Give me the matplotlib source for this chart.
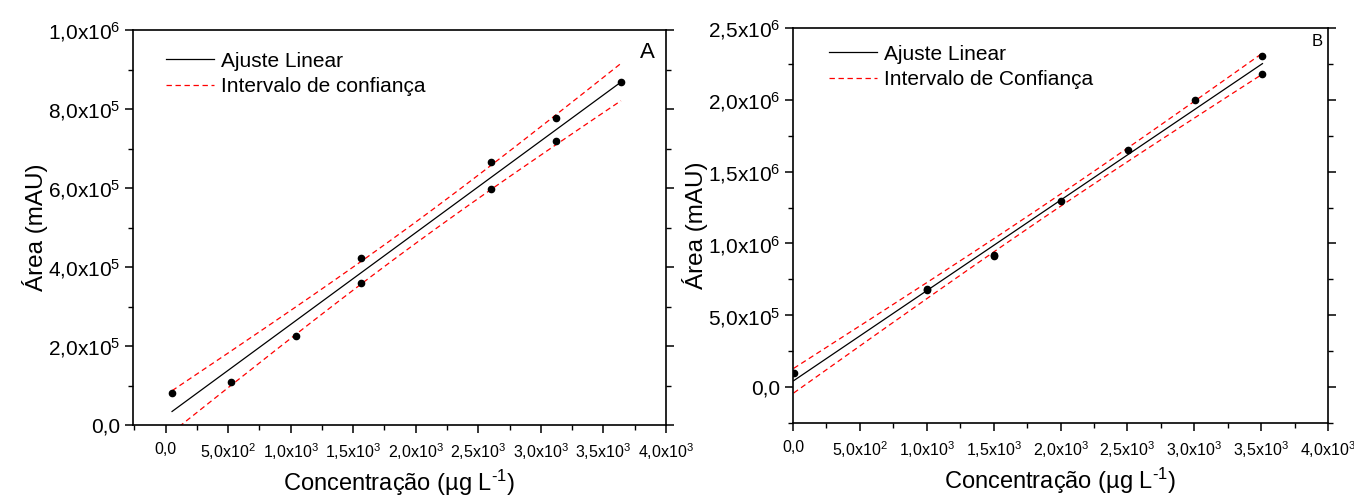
import numpy as np
import matplotlib
matplotlib.use("Agg")
import matplotlib.pyplot as plt
from matplotlib.ticker import FuncFormatter, MultipleLocator

plt.rcParams['font.family'] = ['Liberation Sans', 'DejaVu Sans']
plt.rcParams['mathtext.fontset'] = 'custom'
plt.rcParams['mathtext.rm'] = 'Liberation Sans'
plt.rcParams['mathtext.default'] = 'regular'

# --------------------------- data ---------------------------
# Panel A
conc_a = [52, 520, 1040, 1560, 1560, 2600, 2600, 3120, 3120, 3640]
area_a = [8.0e4, 1.10e5, 2.25e5, 4.23e5, 3.60e5, 6.66e5, 5.97e5, 7.77e5, 7.19e5, 8.69e5]
# Panel B
conc_b = [5, 1000, 1000, 1500, 1500, 2005, 2505, 3005, 3510, 3510]
area_b = [1.00e5, 6.75e5, 6.80e5, 9.10e5, 9.20e5, 1.299e6, 1.654e6, 2.00e6, 2.304e6, 2.179e6]

T_975 = 2.306  # Student t, 95 %, 8 degrees of freedom


def sci_label(v, pos):
    if abs(v) < 1e-9:
        return "0,0"
    e = int(np.floor(np.log10(abs(v)) + 1e-9))
    m = v / 10 ** e
    return f"{m:.1f}".replace('.', ',') + "x10$^{%d}$" % e


def fit_with_band(x, y):
    x = np.asarray(x, float)
    y = np.asarray(y, float)
    n = len(x)
    b, a = np.polyfit(x, y, 1)
    resid = y - (a + b * x)
    s = np.sqrt(np.sum(resid ** 2) / (n - 2))
    sxx = np.sum((x - x.mean()) ** 2)
    xf = np.linspace(x.min(), x.max(), 200)
    yf = a + b * xf
    half = T_975 * s * np.sqrt(1 / n + (xf - x.mean()) ** 2 / sxx)
    return xf, yf, yf - half, yf + half


def draw_panel(ax, x, y, ci_label, letter, letter_pos, letter_size,
               xlim, ylim, ymajor, yminor, leg_anchor):
    xf, yf, lo, hi = fit_with_band(x, y)
    ax.plot(xf, yf, color='black', lw=0.9, label='Ajuste Linear')
    ax.plot(xf, hi, color='red', lw=0.9, dashes=(4.3, 2.9), label=ci_label)
    ax.plot(xf, lo, color='red', lw=0.9, dashes=(4.3, 2.9))
    ax.plot(x, y, 'o', color='black', markersize=4.5, zorder=5)

    ax.set_xlim(*xlim)
    ax.set_ylim(*ylim)
    ax.xaxis.set_major_locator(MultipleLocator(500))
    ax.xaxis.set_minor_locator(MultipleLocator(250))
    ax.yaxis.set_major_locator(MultipleLocator(ymajor))
    ax.yaxis.set_minor_locator(MultipleLocator(yminor))
    ax.xaxis.set_major_formatter(FuncFormatter(sci_label))
    ax.yaxis.set_major_formatter(FuncFormatter(sci_label))

    ax.tick_params(axis='x', which='major', direction='out', length=6, width=1.1,
                   labelsize=11.5, pad=6)
    ax.tick_params(axis='y', which='major', direction='out', length=6, width=1.1,
                   labelsize=15, right=True, pad=3)
    ax.tick_params(which='minor', direction='out', length=3.5, width=1.0, right=True)
    for sp in ax.spines.values():
        sp.set_linewidth(1.2)

    ax.set_xlabel(r"Concentração (µg L$^{\text{-1}}$)", fontsize=17, labelpad=4)
    ax.set_ylabel("Área (mAU)", fontsize=17.5, labelpad=0)

    ax.text(letter_pos[0], letter_pos[1], letter, transform=ax.transAxes,
            fontsize=letter_size, ha='center', va='center')
    ax.legend(loc='upper left', bbox_to_anchor=leg_anchor, frameon=False,
              fontsize=15, handlelength=2.3, handletextpad=0.35,
              labelspacing=0.32, borderaxespad=0, borderpad=0)


fig = plt.figure(figsize=(13.54, 4.97), dpi=100)
ax_a = fig.add_axes([133 / 1354, 1 - 425 / 497, 533 / 1354, 395 / 497])
ax_b = fig.add_axes([793 / 1354, 1 - 423 / 497, 535 / 1354, 395 / 497])

draw_panel(ax_a, conc_a, area_a, 'Intervalo de confiança', 'A', (0.966, 0.944), 16,
           (-260, 4000), (0, 1.0e6), 2e5, 1e5, (0.062, 0.945))
draw_panel(ax_b, conc_b, area_b, 'Intervalo de Confiança', 'B', (0.979, 0.965), 12,
           (0, 4000), (-2.5e5, 2.5e6), 5e5, 2.5e5, (0.067, 0.958))

fig.savefig("out.png", dpi=100)
